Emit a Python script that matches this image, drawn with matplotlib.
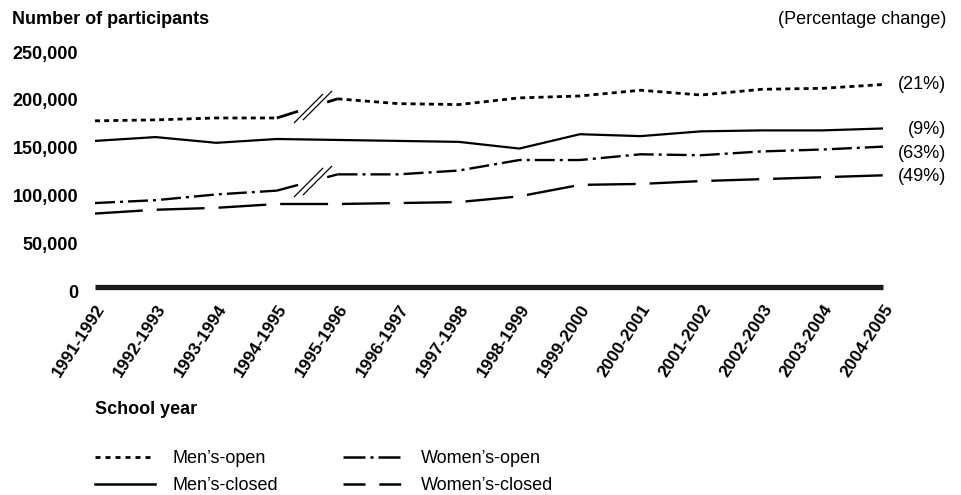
import matplotlib
matplotlib.use("Agg")
import matplotlib.pyplot as plt
from matplotlib.path import Path
from matplotlib.lines import Line2D
from matplotlib.transforms import ScaledTranslation

plt.rcParams['font.family'] = ['Liberation Sans', 'DejaVu Sans']
plt.rcParams['lines.scale_dashes'] = False

# School years on the x axis
years = ['1991-1992', '1992-1993', '1993-1994', '1994-1995', '1995-1996',
         '1996-1997', '1997-1998', '1998-1999', '1999-2000', '2000-2001',
         '2001-2002', '2002-2003', '2003-2004', '2004-2005']

# participants
mens_open = [178000, 179000, 181000, 181000, 201000, 196000, 195000,
             202000, 204000, 210000, 205000, 211000, 212000, 216000]
mens_closed = [157000, 161000, 155000, 159000, 158000, 157000, 156000,
               149000, 164000, 162000, 167000, 168000, 168000, 170000]
womens_open = [92000, 95000, 101000, 105000, 122000, 122000, 126000,
               137000, 137000, 143000, 142000, 146000, 148000, 151000]
womens_closed = [81000, 85000, 87000, 91000, 91000, 92000, 93000,
                 99000, 111000, 112000, 115000, 117000, 119000, 121000]

pct_labels = ['(21%)', '(9%)', '(63%)', '(49%)']
yticks = [0, 50000, 100000, 150000, 200000, 250000]

W, H = 962, 495
fig = plt.figure(figsize=(W / 100, H / 100), dpi=100)
ax = fig.add_axes([95 / W, 1 - 291 / H, 788 / W, 239 / H])

x = list(range(len(years)))
break_at = 3  # the open series have a break between index 3 and 4

dot_style = (0, (3.6, 3.0))
dashdot_style = (0, (14.4, 3.6, 2.2, 3.6))
longdash_style = (0, (34.5, 10.0))

slash = Path([(-1, -1), (1, 1)], [Path.MOVETO, Path.LINETO])


def draw_broken(values, ls, lw):
    # two pieces, short stubs and the "//" marks in the break
    ax.plot(x[:break_at + 1], values[:break_at + 1], color='black', ls=ls, lw=lw)
    ax.plot(x[break_at + 1:], values[break_at + 1:], color='black', ls=ls, lw=lw)
    y0, y1 = values[break_at], values[break_at + 1]

    def interp(t):
        return y0 + (y1 - y0) * t

    ax.plot([break_at, break_at + 0.35], [y0, interp(0.35)], color='black', lw=lw,
            solid_capstyle='butt')
    ax.plot([break_at + 0.83, break_at + 1], [interp(0.83), y1], color='black', lw=lw,
            solid_capstyle='butt')
    for t in (0.51, 0.67):
        ax.plot([break_at + t], [interp(t)], ls='none', marker=slash, ms=21,
                mew=0.9, color='black')


draw_broken(mens_open, dot_style, 2.0)
ax.plot(x, mens_closed, color='black', lw=1.6)
draw_broken(womens_open, dashdot_style, 1.7)
ax.plot(x, womens_closed, color='black', lw=1.7, ls=longdash_style)

# thick zero line
base_tr = ax.transData + ScaledTranslation(0, 4 / 100, fig.dpi_scale_trans)
ax.plot([x[0], x[-1]], [0, 0], color='#1a1a1a', lw=3.8, transform=base_tr,
        solid_capstyle='butt', clip_on=False)

ax.set_xlim(x[0], x[-1])
ax.set_ylim(0, 250000)
for s in ax.spines.values():
    s.set_visible(False)

ax.set_yticks(yticks)
ax.set_yticklabels([f'{v:,}' for v in yticks], fontsize=13, fontweight='bold')
ax.tick_params(axis='y', length=0, pad=12)

ax.set_xticks(x)
ax.set_xticklabels(years, fontsize=12.5, fontweight='bold', rotation=57,
                   ha='right', va='top', rotation_mode='anchor')
ax.tick_params(axis='x', length=0, pad=8)
shift = ScaledTranslation(0.5 / 100, 0, fig.dpi_scale_trans)
for lab in ax.get_xticklabels():
    lab.set_transform(lab.get_transform() + shift)

# percentage change labels at the right
ends = [mens_open[-1], mens_closed[-1], womens_open[-1], womens_closed[-1]]
dy_px = [0, -1, -7, -1]
for lab, v, d in zip(pct_labels, ends, dy_px):
    ax.annotate(lab, xy=(x[-1], v), xytext=(63 * 0.72, d * 0.72),
                textcoords='offset points', ha='right', va='center', fontsize=13,
                annotation_clip=False)

fig.text(12 / W, 1 - 19 / H, 'Number of participants', fontsize=13,
         fontweight='bold', ha='left', va='center')
fig.text(946 / W, 1 - 19 / H, '(Percentage change)', fontsize=13,
         ha='right', va='center')
fig.text(95 / W, 1 - 410 / H, 'School year', fontsize=13, fontweight='bold',
         ha='left', va='center')

handles = [
    Line2D([], [], color='black', lw=2.0, ls=(0, (3.6, 3.6))),
    Line2D([], [], color='black', lw=1.8),
    Line2D([], [], color='black', lw=1.8, ls=(0, (15.8, 3.6, 2.2, 3.6))),
    Line2D([], [], color='black', lw=1.8, ls=(0, (15.8, 10.0))),
]
names = ["Men\u2019s-open", "Men\u2019s-closed", "Women\u2019s-open", "Women\u2019s-closed"]
fig.legend(handles, names, loc='upper left', bbox_to_anchor=(95 / W, 1 - 450 / H),
           ncol=2, frameon=False, fontsize=13, handlelength=3.3, handletextpad=1.0,
           columnspacing=3.6, labelspacing=0.58, borderpad=0, borderaxespad=0)

fig.savefig('out.png', dpi=100)
